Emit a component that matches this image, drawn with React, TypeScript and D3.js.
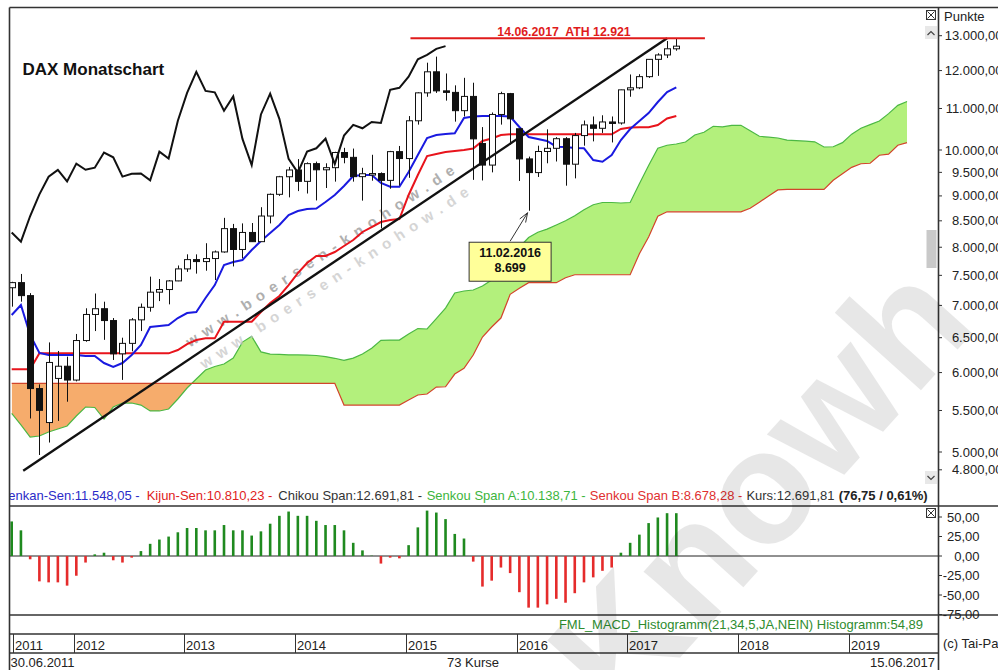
import React from "react";
import * as d3 from "d3";

const W = 998;
const H = 670;
const FONT = "'Liberation Sans', Arial, Helvetica, sans-serif";

// ---------- data (monthly bars, 30.06.2011 .. 15.06.2017) ----------
const opens = [
  7290, 7376, 7159, 5784, 5350, 5920, 6088,
  5898, 6458, 6856, 6947, 6761, 6264, 6416, 6772, 6970, 7216, 7260, 7405,
  7612, 7776, 7741, 7795, 7914, 8349, 7959, 8276, 8103, 8594, 9033, 9405,
  9552, 9306, 9692, 9556, 9603, 9943, 9833, 9407, 9470, 9474, 9327, 9963,
  9806, 10694, 11402, 11966, 11454, 11414, 10945, 11309, 10150, 9660, 10850, 11382,
  10500, 9798, 9495, 9966, 10039, 10263, 9680, 10337, 10593, 10511, 10665, 10640,
  11481, 11535, 11834, 12313, 12438, 12615,
];
const highs = [
  7390, 7524, 7200, 5840, 6430, 6305, 6223,
  6556, 6954, 7194, 7060, 6800, 6500, 6800, 7030, 7478, 7437, 7420, 7672,
  7871, 7870, 8074, 7940, 8558, 8440, 8450, 8457, 8770, 9050, 9424, 9620,
  9794, 9720, 9737, 9700, 9960, 10050, 10033, 9600, 9891, 9500, 9980, 10093,
  10810, 11417, 12219, 12390, 11920, 11600, 11802, 11670, 10540, 10900, 11430, 11400,
  10500, 9850, 10100, 10486, 10300, 10300, 10400, 10700, 10800, 10830, 10800, 11485,
  11893, 11900, 12320, 12486, 12841, 12921,
];
const lows = [
  6980, 7060, 5400, 4966, 5110, 5370, 5612,
  5880, 6440, 6600, 6468, 6176, 5900, 6300, 6600, 6900, 7070, 7017, 7400,
  7560, 7530, 7580, 7420, 7900, 7655, 7800, 8100, 8100, 8450, 9000, 8970,
  9100, 9050, 8907, 9165, 9300, 9700, 9300, 8903, 9320, 8355, 9150, 9218,
  9382, 10600, 11300, 11400, 11200, 10673, 10800, 9338, 9325, 9500, 10600, 10124,
  9314, 8699, 9400, 9700, 9740, 9214, 9370, 10100, 10200, 10400, 10175, 10600,
  11300, 11500, 11800, 11855, 12350, 12560,
];
const closes = [
  7376, 7159, 5784, 5502, 6141, 6088, 5898,
  6458, 6856, 6947, 6761, 6264, 6416, 6772, 6970, 7216, 7260, 7405, 7612,
  7776, 7741, 7795, 7914, 8349, 7959, 8276, 8103, 8594, 9033, 9405, 9552,
  9306, 9692, 9556, 9603, 9943, 9833, 9407, 9470, 9474, 9327, 9963, 9806,
  10694, 11402, 11966, 11454, 11414, 10945, 11309, 10259, 9660, 10850, 11382, 10743,
  9798, 9495, 9966, 10039, 10263, 9680, 10337, 10593, 10511, 10665, 10640, 11481,
  11535, 11834, 12313, 12438, 12615.06, 12691.81,
];
const tenkan = [
  6847, 7006, 6540, 6276, 6247, 6247, 6247, 6247, 6233, 6233,
  6133, 6077, 6133, 6247, 6392, 6661, 6677, 6692, 6800, 6878,
  6894, 7120, 7335, 7680, 7734, 7769, 7949, 8115, 8266, 8419,
  8614, 8693, 8733, 8743, 8875, 9019, 9207, 9421, 9442, 9442,
  9271, 9192, 9192, 9507, 9886, 10279, 10350, 10374, 10391, 10762,
  10799, 10811, 10811, 10811, 10799, 10542, 10303, 10256, 10209, 10076,
  10069, 10046, 10039, 9773, 9735, 9886, 10232, 10494, 10688, 10886,
  11165, 11424, 11548.05,
];
const kijun = [
  6045, 6045, 6045, 6271, 6271, 6271, 6271, 6271, 6271, 6271,
  6271, 6271, 6271, 6271, 6271, 6271, 6271, 6271, 6319, 6406,
  6465, 6490, 6490, 6743, 6743, 6743, 6743, 6894, 7038, 7153,
  7335, 7540, 7715, 7840, 7840, 7913, 8023, 8134, 8285, 8380,
  8477, 8516, 8535, 9019, 9442, 9863, 9909, 9954, 9977, 10000,
  10034, 10209, 10268, 10350, 10367, 10367, 10367, 10367, 10367, 10367,
  10367, 10367, 10367, 10367, 10367, 10367, 10494, 10530, 10535, 10535,
  10591, 10749, 10810.23,
];
const senkouA = [
  5464, 5320, 5175, 5187, 5235, 5271, 5308, 5431, 5544, 5538,
  5393, 5544, 5595, 5595, 5569, 5494, 5494, 5519, 5647, 5791,
  5912, 6035, 6084, 6119, 6203, 6435, 6520, 6292, 6260, 6255,
  6250, 6248, 6245, 6240, 6225, 6200, 6170, 6203, 6262, 6345,
  6460, 6465, 6465, 6555, 6638, 6631, 6790, 6958, 7202, 7235,
  7252, 7318, 7420, 7600, 7840, 8000, 8180, 8280, 8340, 8420,
  8500, 8600, 8720, 8820, 8865, 8865, 8855, 8865, 9255, 9650,
  10040, 10110, 10138.71, 10185, 10350, 10417, 10560, 10545, 10580, 10585,
  10450, 10320, 10300, 10280, 10230, 10220, 10206, 10190, 10069, 10075,
  10170, 10370, 10511, 10600, 10690, 10870, 11080, 11179,
];
const senkouB = [
  5853, 5853, 5853, 5853, 5853, 5853, 5853, 5853, 5853, 5853,
  5853, 5853, 5853, 5853, 5853, 5853, 5853, 5853, 5853, 5853,
  5853, 5853, 5853, 5853, 5853, 5853, 5853, 5853, 5853, 5853,
  5853, 5853, 5853, 5853, 5853, 5853, 5569, 5569, 5569, 5569,
  5569, 5569, 5569, 5634, 5699, 5712, 5804, 5808, 5980, 6059,
  6247, 6510, 6661, 6800, 7180, 7280, 7375, 7375, 7375, 7375,
  7460, 7510, 7510, 7510, 7510, 7510, 7510, 7510, 7880, 8190,
  8590, 8678, 8678.28, 8678.28, 8678.28, 8678.28, 8678.28, 8678.28, 8678.28, 8678.28,
  8750, 8870, 9000, 9125, 9135, 9135, 9135, 9135, 9135, 9330,
  9470, 9610, 9690, 9700, 9880, 9905, 10110, 10170,
];
const macdHist = [
  44.3, 32.9, -4.2, -32.5, -33.8, -33.8, -38.0, -25.3, -8.4, 2.1,
  4.2, -5.5, -8.4, -2.1, 6.3, 15.6, 21.1, 24.9, 30.4, 35.9,
  35.9, 32.9, 32.9, 39.7, 32.9, 32.9, 26.2, 31.6, 41.4, 51.5,
  57.0, 51.5, 51.5, 45.1, 39.7, 39.7, 32.9, 16.9, 7.2, 0.4,
  -9.7, -2.1, -3.0, 13.9, 36.7, 58.2, 55.7, 47.3, 28.3, 22.4,
  -7.2, -39.2, -31.6, -14.8, -21.9, -46.4, -66.2, -66.2, -62.0, -54.9,
  -59.9, -47.7, -33.8, -27.4, -19.0, -14.8, 4.2, 16.9, 27.4, 42.2,
  49.4, 54.9, 54.89,
];
const chikouShift = 25;
const yearLabels = ["2011", "2012", "2013", "2014", "2015", "2016", "2017", "2018", "2019"];
const yearIndex = [0.1, 6.7, 18.7, 30.7, 42.7, 54.7, 66.7, 78.7, 90.7];
const priceTicks = [13000, 12000, 11000, 10000, 9500, 9000, 8500, 8000, 7500, 7000, 6500, 6000, 5500, 5000, 4800];
const macdTicks = [50, 25, 0, -25, -50, -75];
const trendLine = [
  { idx: 1.25, value: 4790 },
  { idx: 71, value: 12921 },
];
const athSpan = [43.2, 75.1];
const athDate = "14.06.2017";
const lowMarkIndex = 56;
const lowMarkDate = "11.02.2016";
const startDate = "30.06.2011";
const endDate = "15.06.2017";

// ---------- formatting ----------
const loc = d3.formatLocale({ decimal: ",", thousands: ".", grouping: [3], currency: ["", ""], minus: "-" });
const f2 = loc.format(",.2f");
const f0 = loc.format(",.0f");

export default function App() {
  const last = closes.length - 1;
  const x = d3.scaleLinear().domain([0, last]).range([11.7, 676.3]);
  const y = d3.scaleLog().domain([4800, 13000]).range([469.8, 35.7]);
  const my = d3.scaleLinear().domain([-75, 50]).range([614.5, 517]);

  const L = 9.5, T = 7.5, AX = 938.5, PB = 506, MB = 615, TA = 634, TB = 653;
  const FS = 13;

  const cloudIdx = d3.range(senkouA.length);
  const between = d3.area<number>().x((i) => x(i)).y0((i) => y(senkouB[i])).y1((i) => y(senkouA[i]))(cloudIdx) || "";
  const aboveB = d3.area<number>().x((i) => x(i)).y0(0).y1((i) => y(senkouB[i]))(cloudIdx) || "";
  const belowB = d3.area<number>().x((i) => x(i)).y0((i) => y(senkouB[i])).y1(H)(cloudIdx) || "";
  const seriesLine = (arr: number[]) => d3.line<number>().x((_v, i) => x(i)).y((v) => y(v))(arr) || "";
  const chikouIdx = d3.range(0, closes.length - chikouShift);
  const chikouPath = d3.line<number>().x((j) => x(j)).y((j) => y(closes[j + chikouShift]))(chikouIdx) || "";
  const trendPath = d3.line<{ idx: number; value: number }>().x((d) => x(d.idx)).y((d) => y(d.value))(trendLine) || "";

  const athY = y(highs[last]);
  const lowX = x(lowMarkIndex);
  const lowY = y(lows[lowMarkIndex]);
  const boxX = lowX - 59.5, boxY = lowY + 31.5, boxW = 82, boxH = 39;
  const arrowFrom = [boxX + 41, boxY - 1];
  const arrowTo = [lowX - 1, lowY + 2];
  const ang = Math.atan2(arrowTo[1] - arrowFrom[1], arrowTo[0] - arrowFrom[0]);
  const head = (s: number) => [arrowTo[0] - 10 * Math.cos(ang + s), arrowTo[1] - 10 * Math.sin(ang + s)];
  const h1 = head(0.35), h2 = head(-0.35);

  const change = closes[last] - closes[last - 1];
  const pct = (change / closes[last - 1]) * 100;

  const legend = [
    { t: `Tenkan-Sen:${f2(tenkan[last])} - `, c: "#2b2bc8", x: 1.8 },
    { t: `Kijun-Sen:${f2(kijun[last])} - `, c: "#e02222", x: 146.7 },
    { t: `Chikou Span:${f2(closes[last])} - `, c: "#333333", x: 278.3 },
    { t: `Senkou Span A:${f2(senkouA[last])} - `, c: "#3db53d", x: 426.7 },
    { t: `Senkou Span B:${f2(senkouB[last])} - `, c: "#e03030", x: 589.8 },
    { t: `Kurs:${f2(closes[last])} `, c: "#333333", x: 746.4 },
  ];

  return (
    <svg width={W} height={H} viewBox={`0 0 ${W} ${H}`}
      style={{ position: "absolute", left: 0, top: 0, display: "block", background: "#fff", fontFamily: FONT }}>
      <defs>
        <clipPath id="plot"><rect x={L} y={T} width={AX - L} height={PB - T} /></clipPath>
        <clipPath id="above"><path d={aboveB} /></clipPath>
        <clipPath id="below"><path d={belowB} /></clipPath>
        <clipPath id="leftcut"><rect x={L + 0.5} y={0} width={W} height={H} /></clipPath>
      </defs>
      <rect x={0} y={0} width={W} height={H} fill="#fff" />

      <g clipPath="url(#plot)">
        {/* Ichimoku cloud */}
        <path d={between} fill="#b3f07c" clipPath="url(#above)" />
        <path d={between} fill="#f6ac6c" clipPath="url(#below)" />
        <path d={seriesLine(senkouA)} fill="none" stroke="#4cb844" strokeWidth={1.2} />
        <path d={seriesLine(senkouB)} fill="none" stroke="#d2452b" strokeWidth={1.2} />

        {/* small watermark */}
        <g transform="translate(187,343) rotate(-33.3)" fontWeight="bold" fontSize={15}>
          <text x={0} y={26} fill="#c4c4c4" opacity={0.7} textLength={318} lengthAdjust="spacing" dominantBaseline="central">www.boersen-knohow.de</text>
          <text x={0} y={0} fill="#a2a2a2" opacity={0.85} textLength={318} lengthAdjust="spacing" dominantBaseline="central">www.boersen-knohow.de</text>
        </g>

        {/* Kijun / Tenkan */}
        <path d={seriesLine(kijun)} fill="none" stroke="#e8141c" strokeWidth={2} />
        <path d={seriesLine(tenkan)} fill="none" stroke="#1a1ae0" strokeWidth={2} />

        {/* candles */}
        {closes.map((c, i) => {
          const o = opens[i];
          const cx = Math.round(x(i)) + 0.5;
          const top = y(Math.max(o, c));
          const bot = y(Math.min(o, c));
          return (
            <g key={i}>
              <line x1={cx} x2={cx} y1={y(highs[i])} y2={y(lows[i])} stroke="#111" strokeWidth={1} />
              <rect x={cx - 3} y={top} width={6} height={Math.max(1.5, bot - top)}
                fill={c >= o ? "#fff" : "#111"} stroke="#111" strokeWidth={1} />
            </g>
          );
        })}

        {/* Chikou */}
        <path d={chikouPath} fill="none" stroke="#111" strokeWidth={2} />

        {/* trend line */}
        <path d={trendPath} fill="none" stroke="#111" strokeWidth={2.4} />

        {/* ATH */}
        <line x1={x(athSpan[0])} x2={x(athSpan[1])} y1={athY} y2={athY} stroke="#e01b1b" strokeWidth={2} />
        <text x={564} y={athY - 2.5} textAnchor="middle" fontSize={12.3} fontWeight="bold" fill="#e01b1b"
          style={{ whiteSpace: "pre" }}>{`${athDate}  ATH ${f0(highs[last])}`}</text>

        {/* low annotation */}
        <line x1={arrowFrom[0]} y1={arrowFrom[1]} x2={arrowTo[0]} y2={arrowTo[1]} stroke="#333" strokeWidth={1} />
        <polyline points={`${h1[0]},${h1[1]} ${arrowTo[0]},${arrowTo[1]} ${h2[0]},${h2[1]}`} fill="none" stroke="#333" strokeWidth={1} />
        <rect x={boxX} y={boxY} width={boxW} height={boxH} fill="#ffff99" stroke="#333" strokeWidth={1} />
        <text x={boxX + boxW / 2} y={boxY + 15} textAnchor="middle" fontSize={12.5} fontWeight="bold" fill="#111">{lowMarkDate}</text>
        <text x={boxX + boxW / 2} y={boxY + 30} textAnchor="middle" fontSize={12.5} fontWeight="bold" fill="#111">{f0(lows[lowMarkIndex])}</text>

        {/* title */}
        <text x={22.5} y={75} fontSize={17} fontWeight="bold" fill="#111">DAX Monatschart</text>
      </g>

      {/* legend line */}
      <g clipPath="url(#leftcut)" fontSize={FS}>
        {legend.map((d, i) => (
          <text key={i} x={d.x} y={499.5} fill={d.c} style={{ whiteSpace: "pre" }}>{d.t}</text>
        ))}
        <text x={838.7} y={499.5} fill="#222" fontWeight="bold">{`(${f2(change)} / ${f2(pct)}%)`}</text>
      </g>

      {/* MACD histogram */}
      <line x1={L} x2={AX} y1={my(0)} y2={my(0)} stroke="#222" strokeWidth={1} />
      {macdHist.map((v, i) => (
        <rect key={i} x={x(i) - 1.3} width={2.6} y={Math.min(my(0), my(v))} height={Math.abs(my(v) - my(0))}
          fill={v >= 0 ? "#1f8a1f" : "#e52b2b"} />
      ))}
      <text x={923} y={628.5} textAnchor="end" fontSize={FS} fill="#2e8b2e">
        {`FML_MACD_Histogramm(21,34,5,JA,NEIN) Histogramm:${f2(macdHist[last])}`}
      </text>

      {/* frame */}
      <g stroke="#333" strokeWidth={1.6} fill="none">
        <line x1={L} x2={W} y1={T} y2={T} />
        <line x1={L} x2={L} y1={T} y2={H} />
        <line x1={AX} x2={AX} y1={T} y2={H} />
        <line x1={L} x2={W} y1={PB} y2={PB} />
        <line x1={L} x2={W} y1={MB} y2={MB} />
        <line x1={L} x2={AX} y1={TA} y2={TA} />
        <line x1={L} x2={AX} y1={TB} y2={TB} />
      </g>

      {/* time axis */}
      {yearLabels.map((lab, k) => {
        const tx = Math.round(x(yearIndex[k])) + 0.5;
        return (
          <g key={lab}>
            <line x1={tx} x2={tx} y1={TA} y2={TB} stroke="#333" strokeWidth={1} />
            <text x={tx + 1.5} y={649.5} fontSize={FS} fill="#222">{lab}</text>
          </g>
        );
      })}
      <text x={10.5} y={667} fontSize={FS} fill="#222">{startDate}</text>
      <text x={473} y={667} fontSize={FS} fill="#222" textAnchor="middle">{`${closes.length} Kurse`}</text>
      <text x={935} y={667} fontSize={FS} fill="#222" textAnchor="end">{endDate}</text>
      <text x={943} y={648} fontSize={FS} fill="#222">(c) Tai-Pan</text>

      {/* price axis */}
      <text x={944} y={21} fontSize={FS} fill="#222">Punkte</text>
      {priceTicks.map((v) => (
        <g key={v}>
          <line x1={AX} x2={AX + 3.5} y1={y(v)} y2={y(v)} stroke="#333" strokeWidth={1} />
          <text x={1002.5} y={y(v) + 4.5} textAnchor="end" fontSize={FS} fill="#222">{f2(v)}</text>
        </g>
      ))}
      {macdTicks.map((v) => (
        <g key={v}>
          <line x1={AX} x2={AX + 3.5} y1={my(v)} y2={my(v)} stroke="#333" strokeWidth={1} />
          <text x={979.5} y={my(v) + 4.5} textAnchor="end" fontSize={FS} fill="#222">{f2(v)}</text>
        </g>
      ))}

      {/* window widgets */}
      {[10.5, 508.5].map((by) => (
        <g key={by} stroke="#333" strokeWidth={1} fill="#fff">
          <rect x={926.5} y={by} width={9} height={9} />
          <line x1={927.5} y1={by + 1} x2={934.5} y2={by + 8} />
          <line x1={934.5} y1={by + 1} x2={927.5} y2={by + 8} />
        </g>
      ))}
      <rect x={925} y={26} width={12} height={13} fill="#e8e8e8" />
      <polyline points="927.5,35 931,31.5 934.5,35" fill="none" stroke="#444" strokeWidth={1.2} />
      <rect x={925} y={471} width={12} height={13} fill="#e8e8e8" />
      <polyline points="927.5,476 931,479.5 934.5,476" fill="none" stroke="#444" strokeWidth={1.2} />
      <rect x={926.5} y={230} width={10} height={38} fill="#c9c9c9" />

      {/* large watermark */}
      <text transform="translate(622,722) rotate(-48)" fontSize={160} fontWeight="bold" fill="#000" opacity={0.09}>Knowh</text>
    </svg>
  );
}
